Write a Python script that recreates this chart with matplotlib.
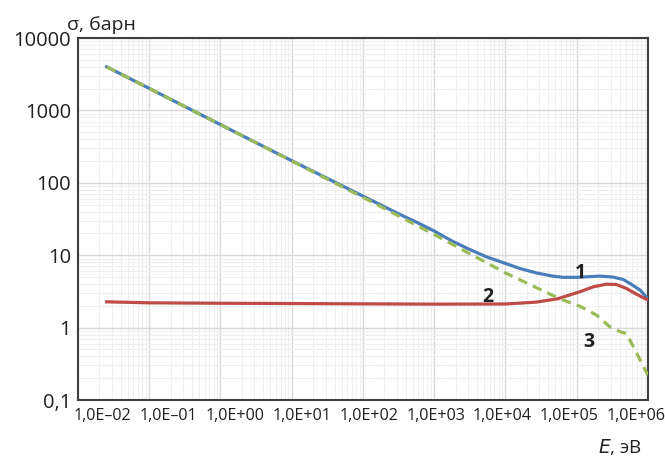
import matplotlib.pyplot as plt
from matplotlib.ticker import LogLocator, NullFormatter

plt.rcParams['font.family'] = ['Open Sans', 'DejaVu Sans']

# energies, eV -> cross sections, barn
E_total = [0.0253, 0.1, 1, 10, 100, 300, 620, 1000, 1800, 3100, 5400, 1e4, 1.6e4,
           2.7e4, 4.7e4, 6.5e4, 1e5, 1.5e5, 2.1e5, 3.2e5, 4.5e5, 5.6e5, 7.8e5, 1e6]
sigma_total = [4000, 2012, 636, 202, 65.5, 38.3, 27.3, 21.6, 15.6, 12.1, 9.5, 7.7,
               6.55, 5.7, 5.13, 4.95, 4.95, 5.05, 5.15, 5.0, 4.62, 4.07, 3.29, 2.5]

E_capture = [0.0253, 0.1, 1, 10, 100, 1000, 1e4, 2.7e4, 5.4e4, 1.1e5, 1.7e5,
             2.6e5, 3.6e5, 5e5, 6.9e5, 1e6]
sigma_capture = [2.27, 2.2, 2.17, 2.15, 2.13, 2.11, 2.12, 2.25, 2.5, 3.12, 3.65,
                 3.98, 3.94, 3.47, 2.9, 2.4]

E_scatter = [0.0253, 0.1, 1, 10, 100, 1000, 1e4, 5.8e4, 1.1e5, 1.9e5, 2.9e5,
             4.1e5, 5e5, 6.6e5, 1e6]
sigma_scatter = [4000, 2012, 636, 200, 63.0, 19.3, 5.7, 2.5, 1.98, 1.49, 1.03,
                 0.875, 0.83, 0.49, 0.22]

x_labels = ['1,0E\u201302', '1,0E\u201301', '1,0E+00', '1,0E+01', '1,0E+02',
            '1,0E+03', '1,0E+04', '1,0E+05', '1,0E+06']
y_labels = ['0,1', '1', '10', '100', '1000', '10000']
y_ticks = [0.1, 1, 10, 100, 1000, 10000]

fig = plt.figure(figsize=(6.65, 4.59), dpi=100)
ax = fig.add_axes([0.1173, 0.1285, 0.857, 0.7887])

ax.plot(E_total, sigma_total, color='#4a7ebb', lw=2.3, zorder=3)
ax.plot(E_capture, sigma_capture, color='#be4b48', lw=2.3, zorder=3)
ax.plot(E_scatter, sigma_scatter, color='#9bbb59', lw=2.3, ls=(0, (3, 2)), zorder=4)

ax.set_xscale('log')
ax.set_yscale('log')
ax.set_xlim(1e-2, 1e6)
ax.set_ylim(0.1, 10000)

ax.xaxis.set_major_locator(LogLocator(base=10, numticks=20))
ax.xaxis.set_minor_locator(LogLocator(base=10, subs=range(2, 10), numticks=100))
ax.yaxis.set_minor_locator(LogLocator(base=10, subs=range(2, 10), numticks=100))
ax.xaxis.set_major_formatter(NullFormatter())
ax.xaxis.set_minor_formatter(NullFormatter())
ax.yaxis.set_minor_formatter(NullFormatter())
ax.set_yticks(y_ticks)
ax.set_yticklabels(y_labels, fontsize=14.5, color='#202020')
ax.tick_params(which='both', length=0)
ax.tick_params(axis='y', pad=5)

ax.grid(which='major', color='#d9d9d9', lw=1.0)
ax.grid(which='minor', color='#efefef', lw=0.8)
ax.set_axisbelow(True)

for s in ax.spines.values():
    s.set_color('#404040')
    s.set_linewidth(1.5)

# x tick labels, spread evenly as in the original
for i, lab in enumerate(x_labels):
    ax.text(0.042 + i * 0.937 / (len(x_labels) - 1), -0.022, lab,
            transform=ax.transAxes, ha='center', va='top', fontsize=11.6,
            color='#202020')

fig.text(0.1527, 0.9357, '\u03c3, барн', ha='center', va='baseline',
         fontsize=14, color='#202020')
fig.text(0.9654, 0.012, '$\\mathit{E}$, эВ', ha='right', va='baseline',
         fontsize=13.5, color='#202020')

ax.text(9.4e4, 4.9, '1', fontsize=14, fontweight='bold', color='#202020')
ax.text(4.8e3, 2.25, '2', fontsize=14, fontweight='bold', color='#202020')
ax.text(1.23e5, 0.547, '3', fontsize=14, fontweight='bold', color='#202020')

fig.savefig('out.png', dpi=100)
